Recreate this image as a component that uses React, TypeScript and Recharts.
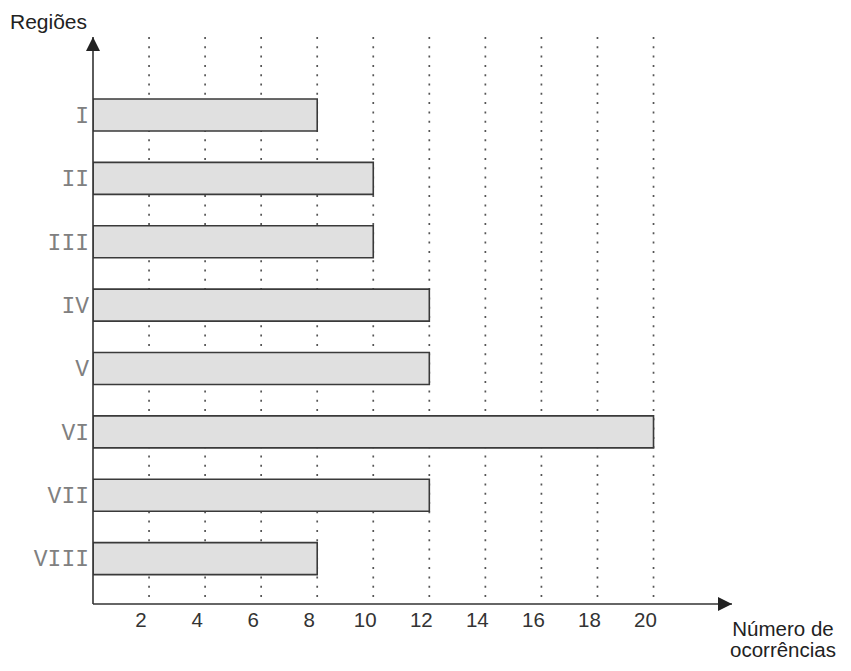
import { BarChart, Bar, XAxis, YAxis, CartesianGrid } from 'recharts';

const regioes = ['I', 'II', 'III', 'IV', 'V', 'VI', 'VII', 'VIII'];
const ocorrencias = [8, 10, 10, 12, 12, 20, 12, 8];
const xTicks = [2, 4, 6, 8, 10, 12, 14, 16, 18, 20];
const X_MAX = 22.8;

const data = regioes.map((name, i) => ({ name, value: ocorrencias[i] }));

const sans = '"Liberation Sans", Arial, sans-serif';

// only the tick lines, not the plot border
const gridX = ({ xAxis, offset }: any) =>
  xTicks.map((t) =>
    xAxis && typeof xAxis.scale === 'function'
      ? xAxis.scale(t)
      : offset.left + (t / X_MAX) * offset.width
  );

export default function App() {
  return (
    <div style={{ position: 'relative', width: 835, height: 655, fontFamily: sans }}>
      <div style={{ position: 'absolute', left: 2, top: 2, fontSize: 21, color: '#222' }}>Regiões</div>
      <div
        style={{
          position: 'absolute',
          left: 705,
          top: 610,
          width: 140,
          textAlign: 'center',
          fontSize: 20.5,
          lineHeight: '21px',
          color: '#222',
        }}
      >
        Número de
        <br />
        ocorrências
      </div>
      <BarChart
        width={835}
        height={655}
        data={data}
        layout="vertical"
        margin={{ top: 29, right: 111, bottom: 29, left: 0 }}
      >
        <defs>
          <marker
            id="arrowHead"
            viewBox="0 0 14 14"
            refX={14}
            refY={7}
            markerWidth={14}
            markerHeight={14}
            markerUnits="userSpaceOnUse"
            orient="auto-start-reverse"
          >
            <path d="M0,0 L14,7 L0,14 z" fill="#222" />
          </marker>
        </defs>
        <CartesianGrid
          horizontal={false}
          verticalCoordinatesGenerator={gridX}
          stroke="#555"
          strokeWidth={1.7}
          strokeDasharray="2 7.3"
        />
        <XAxis
          type="number"
          domain={[0, X_MAX]}
          ticks={xTicks}
          allowDataOverflow
          height={30}
          tickLine={false}
          axisLine={{ stroke: '#333', strokeWidth: 1.6, markerEnd: 'url(#arrowHead)' }}
          tick={{ fill: '#333', fontSize: 20.5, fontFamily: sans, dx: -8 }}
        />
        <YAxis
          type="category"
          dataKey="name"
          width={85}
          padding={{ top: 46, bottom: 14 }}
          tickLine={false}
          tickSize={0}
          tickMargin={4}
          axisLine={{ stroke: '#333', strokeWidth: 1.6, markerStart: 'url(#arrowHead)' }}
          tick={{ fill: '#808080', fontSize: 23, fontFamily: '"Liberation Mono", "Courier New", monospace' }}
        />
        <Bar
          dataKey="value"
          barSize={32}
          fill="#e0e0e0"
          stroke="#3a3a3a"
          strokeWidth={1.6}
          isAnimationActive={false}
        />
      </BarChart>
    </div>
  );
}
